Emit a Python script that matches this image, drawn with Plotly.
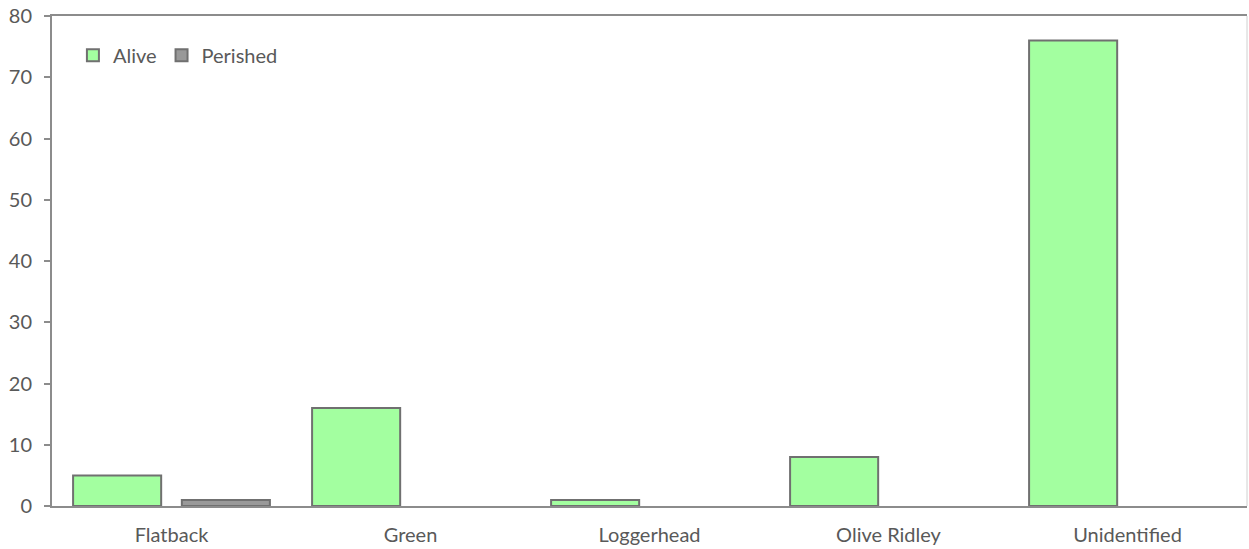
import plotly.graph_objects as go

categories = ["Flatback", "Green", "Loggerhead", "Olive Ridley", "Unidentified"]
alive = [5, 16, 1, 8, 76]
perished = [1, 0, 0, 0, 0]

font_fam = "Lato, 'Open Sans', sans-serif"
txt = "#595959"

def nz(vals):
    return [v if v else None for v in vals]

fig = go.Figure()
fig.add_trace(go.Bar(name="Alive", x=categories, y=nz(alive),
                     marker=dict(color="#A3FFA0", line=dict(color="#707070", width=2))))
fig.add_trace(go.Bar(name="Perished", x=categories, y=nz(perished),
                     marker=dict(color="#999999", line=dict(color="#707070", width=2))))

fig.update_layout(
    width=1249, height=549,
    margin=dict(l=52, r=2, t=16, b=43, autoexpand=False),
    paper_bgcolor="white", plot_bgcolor="white",
    barmode="group", bargap=0.09, bargroupgap=0.19,
    font=dict(family=font_fam, size=20, color=txt),
    legend=dict(orientation="h", x=0.0175, y=0.92, xanchor="left", yanchor="middle",
                bgcolor="rgba(0,0,0,0)", font=dict(size=20, color=txt),
                itemwidth=30, tracegroupgap=0),
    xaxis=dict(showline=True, linecolor="#8c8c8c", linewidth=2, mirror=True,
               ticks="", showgrid=False, ticklabelstandoff=10,
               tickfont=dict(size=20, color=txt)),
    yaxis=dict(range=[0, 80], dtick=10, showline=True, linecolor="#8c8c8c", linewidth=2,
               ticks="outside", ticklen=6, tickcolor="#8c8c8c", tickwidth=2,
               ticklabelstandoff=8,
               showgrid=False, zeroline=False, tickfont=dict(size=20, color=txt)),
)
fig.add_shape(type="line", xref="paper", yref="paper", x0=1, x1=1, y0=0, y1=1,
              line=dict(color="#d0d0d0", width=1))
fig.write_html("out.html", config={"displayModeBar": False},
               post_script="document.body.style.margin='0';document.body.style.overflow='hidden';")
